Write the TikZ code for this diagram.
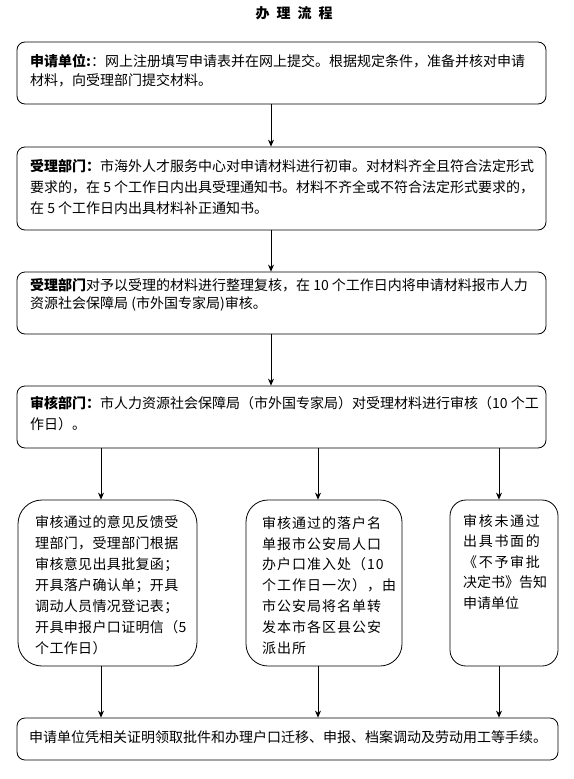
\documentclass[tikz,border=0pt]{standalone}
\usepackage{fontspec}
\setmainfont{Noto Sans CJK SC}
\usetikzlibrary{arrows.meta}
\tikzset{
  box/.style={draw=black, line width=0.8pt, rounded corners=8pt, inner sep=0pt},
  ln/.style={anchor=west, inner sep=0pt, text height=11.8pt, text depth=1.4pt,
    font=\fontsize{14pt}{14pt}\selectfont},
  lnl/.style={ln, font=\fontsize{14pt}{14pt}\selectfont\addfontfeature{LetterSpace=2.5}},
  lnm/.style={ln, font=\fontsize{14pt}{14pt}\selectfont\addfontfeature{LetterSpace=7}},
  lnr/.style={ln, font=\fontsize{14pt}{14pt}\selectfont\addfontfeature{LetterSpace=12}},
  arr/.style={-{Stealth[length=7pt,width=6pt]}, line width=0.8pt},
}
\begin{document}
\begin{tikzpicture}[x=1pt,y=-1pt]
\useasboundingbox (0,0) rectangle (573,779);
\fill[white] (0,0) rectangle (573,779);

% title
\node[anchor=center, inner sep=0pt, font=\fontsize{14pt}{14pt}\selectfont\bfseries] (title) at (294,13)
  {办\hspace{7pt}理\hspace{7pt}流\hspace{7pt}程};

% boxes
\node[box, minimum width=529pt, minimum height=62pt] (b1) at (281.5,73) {};
\node[box, minimum width=529pt, minimum height=83pt] (b2) at (281.5,188.5) {};
\node[box, minimum width=529pt, minimum height=62pt] (b3) at (281.5,303) {};
\node[box, minimum width=529pt, minimum height=62pt] (b4) at (281.5,417) {};
\node[box, rounded corners=24pt, minimum width=179pt, minimum height=166pt] (c1) at (107.5,583) {};
\node[box, rounded corners=22pt, minimum width=156pt, minimum height=166pt] (c2) at (324,583) {};
\node[box, rounded corners=16pt, minimum width=108pt, minimum height=166pt] (c3) at (504,583) {};
\node[box, minimum width=541pt, minimum height=42pt] (f) at (287.5,739) {};

% connector columns
\coordinate (mx) at (271,0);
\coordinate (lx) at (101,0);
\coordinate (cx) at (318,0);
\coordinate (rx) at (499,0);

\draw[arr] (b1.south -| mx) -- (b2.north -| mx);
\draw[arr] (b2.south -| mx) -- (b3.north -| mx);
\draw[arr] (b3.south -| mx) -- (b4.north -| mx);
\draw[arr] (b4.south -| lx) -- (c1.north -| lx);
\draw[arr] (b4.south -| cx) -- (c2.north -| cx);
\draw[arr] (b4.south -| rx) -- (c3.north -| rx);
\draw[arr] (c1.south -| lx) -- (f.north -| lx);
\draw[arr] (c2.south -| cx) -- (f.north -| cx);
\draw[arr] (c3.south -| rx) -- (f.north -| rx);

% box 1
\node[ln] (t1a) at (30,61.5) {\textbf{申请单位:}：网上注册填写申请表并在网上提交。根据规定条件，准备并核对申请};
\node[ln] (t1b) at (30,80) {材料，向受理部门提交材料。};
% box 2
\node[ln] (t2a) at (30,166) {\textbf{受理部门：}市海外人才服务中心对申请材料进行初审。对材料齐全且符合法定形式};
\node[ln] (t2b) at (30,187) {要求的，在 5 个工作日内出具受理通知书。材料不齐全或不符合法定形式要求的，};
\node[ln] (t2c) at (30,208) {在 5 个工作日内出具材料补正通知书。};
% box 3
\node[ln] (t3a) at (30,285) {\textbf{受理部门}对予以受理的材料进行整理复核，在 10 个工作日内将申请材料报市人力};
\node[ln] (t3b) at (30,303) {资源社会保障局 (市外国专家局)审核。};
% box 4
\node[ln] (t4a) at (30,403) {\textbf{审核部门：}市人力资源社会保障局（市外国专家局）对受理材料进行审核（10 个工};
\node[ln] (t4b) at (30,424) {作日）。};

% left box
\node[lnl] (l1) at (35,522) {审核通过的意见反馈受};
\node[lnl] (l2) at (35,543) {理部门，受理部门根据};
\node[lnl] (l3) at (35,564) {审核意见出具批复函；};
\node[lnl] (l4) at (35,585) {开具落户确认单；开具};
\node[lnl] (l5) at (35,606) {调动人员情况登记表；};
\node[lnl] (l6) at (35,627) {开具申报户口证明信（5};
\node[lnl] (l7) at (35,648) {个工作日）};

% middle box
\node[lnm] (m1) at (262,523) {审核通过的落户名};
\node[lnm] (m2) at (262,543.8) {单报市公安局人口};
\node[lnm] (m3) at (262,564.6) {办户口准入处（10};
\node[lnm] (m4) at (262,585.4) {个工作日一次），由};
\node[lnm] (m5) at (262,606.2) {市公安局将名单转};
\node[lnm] (m6) at (262,627) {发本市各区县公安};
\node[lnm] (m7) at (262,648) {派出所};

% right box
\node[lnr] (r1) at (463,521) {审核未通过};
\node[lnr] (r2) at (463,541.5) {出具书面的};
\node[lnr] (r3) at (463,562) {《不予审批};
\node[ln] (r4) at (463,582.5) {决定书》告知};
\node[ln] (r5) at (463,603) {申请单位};

% final box
\node[ln] (fa) at (29,737) {申请单位凭相关证明领取批件和办理户口迁移、申报、档案调动及劳动用工等手续。};
\end{tikzpicture}
\end{document}
